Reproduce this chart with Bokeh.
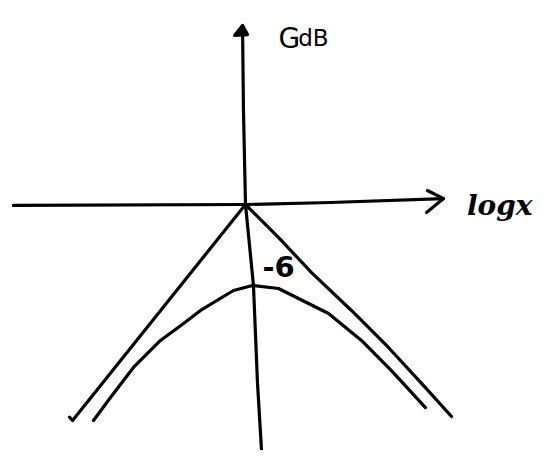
from bokeh.plotting import figure
from bokeh.models import Range1d
from bokeh.core.properties import value
from bokeh.embed import file_html
from bokeh.resources import INLINE

# Data (x: log x, arbitrary units; y: gain in dB)
h_axis_x = [-17.19, 0.0, 6.30, 14.67]
h_axis_y = [-0.07, 0.0, 0.15, 0.44]
h_arrow_x = [13.48, 14.67, 13.41]
h_arrow_y = [1.04, 0.44, -0.59]

v_axis_x = [1.26, 0.89, 0.59, 0.0, -0.15, -0.22]
v_axis_y = [-19.41, -13.26, -6.0, 0.0, 6.96, 13.26]
v_arrow_x = [-0.81, -0.22, 0.15]
v_arrow_y = [12.52, 13.26, 12.59]

left_asym_x = [0.0, -12.81, -13.04]
left_asym_y = [0.0, -16.0, -15.75]
right_asym_x = [0.0, 2.44, 4.89, 7.85, 10.59, 13.33, 15.26]
right_asym_y = [0.0, -2.44, -5.04, -7.85, -10.59, -13.56, -15.70]

curve_x = [-11.26, -10.0, -8.30, -6.30, -4.59, -3.33, -0.89, 0.52, 2.44, 6.15, 8.59, 10.81, 13.33]
curve_y = [-16.0, -14.30, -12.07, -10.07, -8.81, -7.85, -6.37, -6.0, -6.22, -8.07, -10.07, -12.30, -15.04]

peak_label = "-6"
y_label_main = "G"
y_label_sub = "dB"
x_label = "logx"

p = figure(width=540, height=450, output_backend="svg", toolbar_location=None,
           x_range=Range1d(-18.148, 21.852), y_range=Range1d(-18.222, 15.111),
           x_axis_type=None, y_axis_type=None, min_border=0)
p.grid.visible = False
p.outline_line_color = None
p.background_fill_color = "white"

lw = 3.2
kw = dict(line_color="black", line_width=lw, line_cap="round", line_join="round")
p.line(h_axis_x, h_axis_y, **kw)
p.line(h_arrow_x, h_arrow_y, **kw)
p.line(v_axis_x, v_axis_y, **kw)
p.patch(v_arrow_x, v_arrow_y, fill_color="black", **kw)
p.line(left_asym_x, left_asym_y, **kw)
p.line(right_asym_x, right_asym_y, **kw)
p.line(curve_x, curve_y, **kw)

p.text(x=[2.44], y=[12.30], text=[y_label_main], text_font=value("DejaVu Sans"),
       text_font_size="28px", text_baseline="alphabetic", text_color="black")
p.text(x=[3.90], y=[12.30], text=[y_label_sub], text_font=value("DejaVu Sans"),
       text_font_size="23px", text_baseline="alphabetic", text_color="black")
p.text(x=[16.4], y=[-0.07], text=[x_label], text_font=value("DejaVu Serif"),
       text_font_style="bold italic", text_font_size="28px", text_baseline="alphabetic",
       text_color="black")
p.text(x=[1.26], y=[-4.56], text=[peak_label], text_font=value("DejaVu Sans"),
       text_font_style="bold", text_font_size="29px", text_baseline="alphabetic",
       text_color="black")

open("out.html", "w").write(file_html(p, INLINE))
